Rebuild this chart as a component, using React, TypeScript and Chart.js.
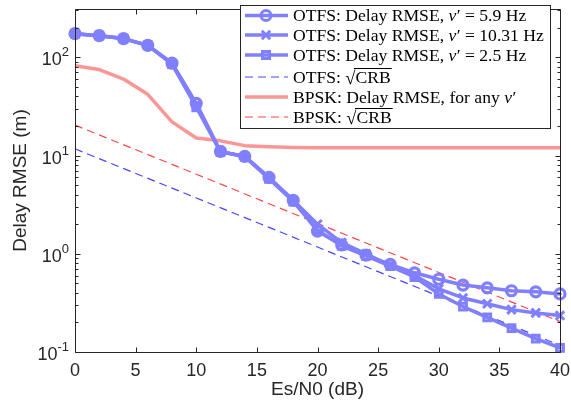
import React, { useEffect, useRef } from "react";
import { Chart, registerables } from "chart.js";

Chart.register(...registerables);

// ---------- data ----------
const snrDb = [0, 2, 4, 6, 8, 10, 12, 14, 16, 18, 20, 22, 24, 26, 28, 30, 32, 34, 36, 38, 40];
const otfsRmseNu59 = [174, 166, 155, 132, 87, 34, 11.0, 9.8, 6.0, 3.5, 1.7, 1.23, 0.97, 0.78, 0.64, 0.55, 0.48, 0.45, 0.42, 0.41, 0.39];
const otfsRmseNu1031 = [174, 166, 155, 132, 87, 33, 10.9, 9.8, 5.9, 3.5, 2.0, 1.3, 1.0, 0.76, 0.6, 0.44, 0.355, 0.31, 0.27, 0.25, 0.235];
const otfsRmseNu25 = [174, 166, 155, 132, 85, 31, 10.9, 9.7, 5.8, 3.4, 1.75, 1.2, 0.95, 0.75, 0.58, 0.39, 0.29, 0.225, 0.175, 0.137, 0.11];
const bpskRmse = [82, 75, 60, 42, 22, 15.1, 14.1, 12.6, 12.3, 12.1, 12.0, 12.0, 12.0, 12.0, 12.0, 12.0, 12.0, 12.0, 12.0, 12.0, 12.0];
const crbSnrDb = [0, 10, 20, 30, 40];
const otfsSqrtCrb = [11.7, 3.7, 1.17, 0.37, 0.117];
const bpskSqrtCrb = [20.4, 6.45, 2.04, 0.645, 0.204];

const xTickValues = [0, 5, 10, 15, 20, 25, 30, 35, 40];
const xTickLabels = ["0", "5", "10", "15", "20", "25", "30", "35", "40"];
const yDecadeValues = [0.1, 1, 10, 100];
const yDecadeExponents = ["-1", "0", "1", "2"];

const xTitle = "Es/N0 (dB)";
const yTitle = "Delay RMSE (m)";
const legendTexts = [
  "OTFS: Delay RMSE, ν′ = 5.9 Hz",
  "OTFS: Delay RMSE, ν′ = 10.31 Hz",
  "OTFS: Delay RMSE, ν′ = 2.5 Hz",
  "OTFS: √CRB",
  "BPSK: Delay RMSE, for any ν′",
  "BPSK: √CRB",
];

// ---------- styles ----------
const BLUE = "rgb(128,128,255)";
const BLUE_DASH = "rgb(70,70,255)";
const RED = "rgb(250,150,150)";
const RED_DASH = "rgb(255,70,70)";
const AXIS = "#262626";
const SANS = '"Liberation Sans", Arial, sans-serif';
const SERIF = '"Liberation Serif", "Times New Roman", serif';

type Marker = "circle" | "cross" | "square" | null;
const legendStyles: { color: string; width: number; dash: number[]; marker: Marker }[] = [
  { color: BLUE, width: 3.5, dash: [], marker: "circle" },
  { color: BLUE, width: 3.5, dash: [], marker: "cross" },
  { color: BLUE, width: 3.5, dash: [], marker: "square" },
  { color: BLUE_DASH, width: 1.2, dash: [8, 5], marker: null },
  { color: RED, width: 3.5, dash: [], marker: null },
  { color: RED_DASH, width: 1.2, dash: [8, 5], marker: null },
];

function drawMarker(ctx: CanvasRenderingContext2D, m: Marker, x: number, y: number, color: string) {
  if (!m) return;
  ctx.save();
  ctx.setLineDash([]);
  ctx.strokeStyle = color;
  ctx.lineWidth = 3;
  ctx.beginPath();
  if (m === "circle") {
    ctx.arc(x, y, 5, 0, Math.PI * 2);
  } else if (m === "cross") {
    const d = 4.2;
    ctx.moveTo(x - d, y - d);
    ctx.lineTo(x + d, y + d);
    ctx.moveTo(x - d, y + d);
    ctx.lineTo(x + d, y - d);
  } else if (m === "square") {
    ctx.rect(x - 3.5, y - 3.5, 7, 7);
  }
  ctx.stroke();
  ctx.restore();
}

function drawRich(ctx: CanvasRenderingContext2D, text: string, x: number, baseline: number, size: number) {
  const tokens = text.split(/(ν′|√CRB)/).filter((t) => t.length > 0);
  let cx = x;
  ctx.textAlign = "left";
  ctx.textBaseline = "alphabetic";
  for (const t of tokens) {
    if (t === "ν′") {
      ctx.font = `italic ${size}px ${SERIF}`;
      ctx.fillText("ν", cx, baseline);
      cx += ctx.measureText("ν").width + 0.5;
      ctx.font = `${size}px ${SERIF}`;
      ctx.fillText("′", cx, baseline);
      cx += ctx.measureText("′").width;
    } else if (t === "√CRB") {
      ctx.font = `${size + 1}px ${SERIF}`;
      ctx.fillText("√", cx, baseline + 1);
      cx += ctx.measureText("√").width;
      ctx.font = `${size}px ${SERIF}`;
      const w = ctx.measureText("CRB").width;
      ctx.fillText("CRB", cx, baseline);
      ctx.save();
      ctx.lineWidth = 1;
      ctx.strokeStyle = "#000";
      ctx.beginPath();
      const oy = Math.round(baseline - size * 0.8) + 0.5;
      ctx.moveTo(cx - 1.5, oy);
      ctx.lineTo(cx + w + 1, oy);
      ctx.stroke();
      ctx.restore();
      cx += w;
    } else {
      ctx.font = `${size}px ${SERIF}`;
      ctx.fillText(t, cx, baseline);
      cx += ctx.measureText(t).width;
    }
  }
}

const decorPlugin = {
  id: "matlabDecor",
  afterDatasetsDraw(chart: any) {
    const ctx: CanvasRenderingContext2D = chart.ctx;
    const { left, right, top, bottom } = chart.chartArea;
    const xs = chart.scales.x;
    const ys = chart.scales.y;
    const L = Math.round(left) + 0.5;
    const R = Math.round(right) + 0.5;
    const T = Math.round(top) + 0.5;
    const B = Math.round(bottom) + 0.5;
    ctx.save();
    ctx.strokeStyle = AXIS;
    ctx.lineWidth = 1;
    ctx.setLineDash([]);
    ctx.beginPath();
    ctx.rect(L, T, R - L, B - T);
    for (const v of xTickValues) {
      const px = Math.round(xs.getPixelForValue(v)) + 0.5;
      ctx.moveTo(px, B);
      ctx.lineTo(px, B - 5);
      ctx.moveTo(px, T);
      ctx.lineTo(px, T + 5);
    }
    for (const d of yDecadeValues) {
      for (let m = 1; m <= 9; m++) {
        const v = d * m;
        if (v > ys.max * 1.0001) break;
        const py = Math.round(ys.getPixelForValue(v)) + 0.5;
        const len = m === 1 ? 5 : 3;
        ctx.moveTo(L, py);
        ctx.lineTo(L + len, py);
        ctx.moveTo(R, py);
        ctx.lineTo(R - len, py);
      }
    }
    ctx.stroke();

    ctx.fillStyle = AXIS;
    ctx.font = `18px ${SANS}`;
    ctx.textAlign = "center";
    ctx.textBaseline = "alphabetic";
    xTickValues.forEach((v, i) => {
      ctx.fillText(xTickLabels[i], xs.getPixelForValue(v), 376);
    });
    yDecadeValues.forEach((v, i) => {
      const py = ys.getPixelForValue(v);
      ctx.font = `13px ${SANS}`;
      const ew = ctx.measureText(yDecadeExponents[i]).width;
      const baseRight = 69 - ew;
      ctx.textAlign = "left";
      ctx.fillText(yDecadeExponents[i], baseRight, py - 1);
      ctx.font = `18px ${SANS}`;
      ctx.textAlign = "right";
      ctx.fillText("10", baseRight, py + 8);
    });
    ctx.font = `19px ${SANS}`;
    ctx.textAlign = "center";
    ctx.fillText(xTitle, (left + right) / 2, 395);
    ctx.save();
    ctx.translate(21, (top + bottom) / 2);
    ctx.rotate(-Math.PI / 2);
    ctx.textBaseline = "middle";
    ctx.fillText(yTitle, 0, 0);
    ctx.restore();

    const bx = 240.5, by = 5.5, bw = 310, bh = 123;
    ctx.fillStyle = "#fff";
    ctx.fillRect(bx, by, bw, bh);
    ctx.strokeStyle = AXIS;
    ctx.lineWidth = 1;
    ctx.strokeRect(bx, by, bw, bh);
    const rowY = [15.5, 35, 55, 77, 97, 117];
    legendTexts.forEach((t, i) => {
      const st = legendStyles[i];
      const y = rowY[i];
      ctx.save();
      ctx.strokeStyle = st.color;
      ctx.lineWidth = st.width;
      ctx.setLineDash(st.dash);
      ctx.beginPath();
      ctx.moveTo(245, y);
      ctx.lineTo(288, y);
      ctx.stroke();
      ctx.restore();
      drawMarker(ctx, st.marker, 266, y, st.color);
      ctx.fillStyle = "#000";
      drawRich(ctx, t, 293, y + 5.5, 17.6);
    });
    ctx.restore();
  },
};

function pts(xs: number[], ys: number[]) {
  return xs.map((x, i) => ({ x, y: ys[i] }));
}

export default function App() {
  const ref = useRef<HTMLCanvasElement | null>(null);
  useEffect(() => {
    if (!ref.current) return;
    const markerBase = {
      borderColor: BLUE,
      borderWidth: 3.5,
      pointRadius: 5,
      pointBorderWidth: 3.2,
      pointBorderColor: BLUE,
      pointBackgroundColor: "rgba(0,0,0,0)",
      borderJoinStyle: "round" as const,
      borderCapStyle: "round" as const,
      clip: false as any,
      fill: false,
    };
    const chart = new Chart(ref.current, {
      type: "line",
      data: {
        datasets: [
          { ...markerBase, label: legendTexts[0], data: pts(snrDb, otfsRmseNu59), pointStyle: "circle" },
          { ...markerBase, label: legendTexts[1], data: pts(snrDb, otfsRmseNu1031), pointStyle: "crossRot", pointRadius: 6, pointBorderWidth: 3 },
          { ...markerBase, label: legendTexts[2], data: pts(snrDb, otfsRmseNu25), pointStyle: "rect", pointRadius: 4.8, pointBorderWidth: 3 },
          { label: legendTexts[3], data: pts(crbSnrDb, otfsSqrtCrb), borderColor: BLUE_DASH, borderWidth: 1.2, borderDash: [8, 5], pointRadius: 0, fill: false, clip: false as any },
          { label: legendTexts[4], data: pts(snrDb, bpskRmse), borderColor: RED, borderWidth: 3.5, pointRadius: 0, borderJoinStyle: "round", fill: false, clip: false as any },
          { label: legendTexts[5], data: pts(crbSnrDb, bpskSqrtCrb), borderColor: RED_DASH, borderWidth: 1.2, borderDash: [8, 5], pointRadius: 0, fill: false, clip: false as any },
        ],
      },
      options: {
        responsive: false,
        animation: false,
        layout: { padding: { top: 3, right: 11, left: 0, bottom: 0 } },
        plugins: { legend: { display: false }, tooltip: { enabled: false } },
        elements: { line: { tension: 0 } },
        scales: {
          x: {
            type: "linear",
            min: 0,
            max: 40,
            grid: { display: false },
            border: { display: false },
            ticks: { display: false },
            afterFit: (s: any) => { s.height = 60; },
          },
          y: {
            type: "logarithmic",
            min: 0.1,
            max: 310,
            grid: { display: false },
            border: { display: false },
            ticks: { display: false },
            afterFit: (s: any) => { s.width = 75; },
          },
        },
      },
      plugins: [decorPlugin],
    });
    return () => chart.destroy();
  }, []);
  return (
    <div style={{ position: "fixed", left: 0, top: 0, width: 571, height: 412, background: "#fff" }}>
      <canvas ref={ref} width={571} height={412} style={{ width: 571, height: 412, display: "block" }} />
    </div>
  );
}
